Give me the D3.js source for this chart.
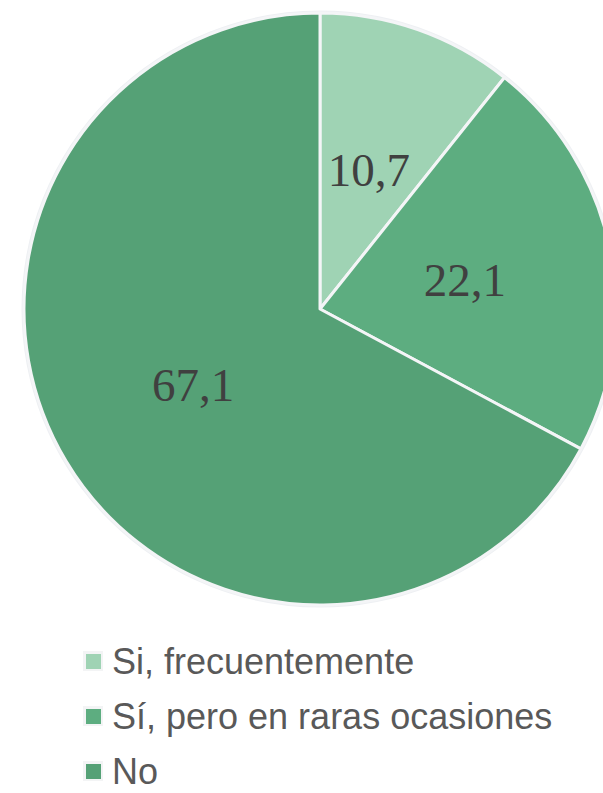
<!DOCTYPE html>
<html lang="en">
<head>
    <meta charset="UTF-8">
    <title>Pie</title>
    <script src="https://d3js.org/d3.v7.min.js"></script>
    <style>
        body { margin: 0; background: #fff; }
        .slice-label { font-family: "Liberation Serif", "Times New Roman", serif; fill: #404040; }
        .legend-text { font-family: "Liberation Sans", Arial, sans-serif; fill: #595959; }
    </style>
</head>
<body>
    <div id="chart"></div>
    <script>
        const categories = ["Si, frecuentemente", "Sí, pero en raras ocasiones", "No"];
        const values = [10.7, 22.1, 67.1];
        const labels = ["10,7", "22,1", "67,1"];
        const colors = ["#9fd3b4", "#5dad80", "#55a176"];

        const width = 603, height = 793;
        const cx = 320, cy = 309, radius = 296;

        const svg = d3.select("#chart")
          .append("svg")
            .attr("width", width)
            .attr("height", height);

        const g = svg.append("g")
            .attr("transform", `translate(${cx},${cy})`);

        const pie = d3.pie().sort(null).value(d => d);
        const arcs = pie(values);

        const arc = d3.arc().innerRadius(0).outerRadius(radius);
        const labelArc = d3.arc().innerRadius(radius * 0.5).outerRadius(radius * 0.5);

        // outer halo
        g.append("circle")
            .attr("r", radius + 1)
            .style("fill", "none")
            .style("stroke", "#eef0f3")
            .style("stroke-width", 3);

        g.selectAll("path.slice")
            .data(arcs)
            .enter()
            .append("path")
            .attr("class", "slice")
            .attr("d", arc)
            .style("fill", (d, i) => colors[i])
            .style("stroke", "#f4f5f7")
            .style("stroke-width", 3)
            .style("stroke-linejoin", "round");

        g.selectAll("text.slice-label")
            .data(arcs)
            .enter()
            .append("text")
            .attr("class", "slice-label")
            .attr("transform", d => `translate(${labelArc.centroid(d)})`)
            .attr("text-anchor", "middle")
            .attr("dy", "0.35em")
            .style("font-size", "47px")
            .text((d, i) => labels[i]);

        // legend
        const legend = svg.append("g");
        const rowY = d3.scalePoint().domain(categories).range([661, 771]);

        const rows = legend.selectAll("g.row")
            .data(categories)
            .enter()
            .append("g")
            .attr("class", "row")
            .attr("transform", d => `translate(0,${rowY(d)})`);

        rows.append("rect")
            .attr("x", 83)
            .attr("y", -10)
            .attr("width", 20)
            .attr("height", 20)
            .style("fill", "#f3f4f5");

        rows.append("rect")
            .attr("x", 86)
            .attr("y", -7)
            .attr("width", 15)
            .attr("height", 15)
            .style("fill", (d, i) => colors[i]);

        rows.append("text")
            .attr("class", "legend-text")
            .attr("x", 112)
            .attr("dy", "0.36em")
            .style("font-size", "36px")
            .text(d => d);
    </script>
</body>
</html>
